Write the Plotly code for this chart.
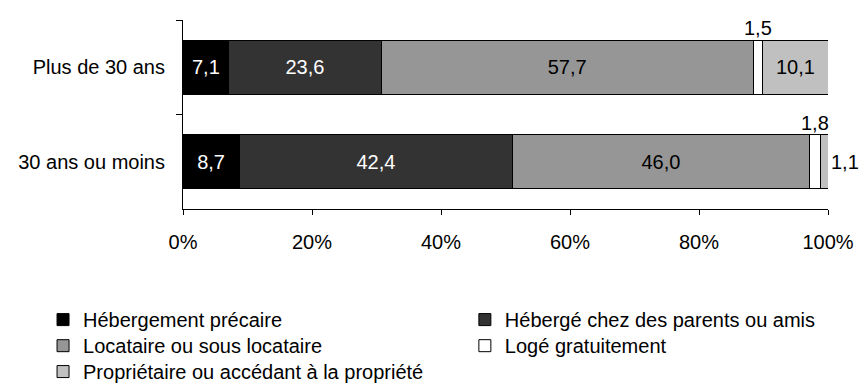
import plotly.graph_objects as go

# Age groups (top to bottom) and housing-situation shares, in %
categories = ["Plus de 30 ans", "30 ans ou moins"]

hebergement_precaire = [7.1, 8.7]
heberge_parents_amis = [23.6, 42.4]
locataire = [57.7, 46.0]
loge_gratuitement = [1.5, 1.8]
proprietaire = [10.1, 1.1]

x_ticks = [0, 20, 40, 60, 80, 100]
x_tick_labels = [f"{t}%" for t in x_ticks]

FONT = "Liberation Sans, Arial, sans-serif"
FS = 20

# name, values, fill, inside-text colour, legend id
series = [
    ("Hébergement précaire", hebergement_precaire, "#000000", "white", "legend"),
    ("Hébergé chez des parents ou amis", heberge_parents_amis, "#333333", "white", "legend2"),
    ("Locataire ou sous locataire", locataire, "#969696", "black", "legend3"),
    ("Logé gratuitement", loge_gratuitement, "#ffffff", "black", "legend4"),
    ("Propriétaire ou accédant à la propriété", proprietaire, "#c0c0c0", "black", "legend5"),
]

fig = go.Figure()
for name, vals, color, tcolor, leg in series:
    if name == "Logé gratuitement":
        textpos = "none"
    elif name.startswith("Propriétaire"):
        textpos = ["inside", "outside"]
    else:
        textpos = "inside"
    fig.add_trace(go.Bar(
        y=categories, x=vals, name=name, orientation="h",
        width=0.575,
        marker=dict(color=color, line=dict(color="black", width=1)),
        texttemplate="%{x:.1f}", textposition=textpos,
        insidetextanchor="middle",
        insidetextfont=dict(family=FONT, size=FS, color=tcolor),
        outsidetextfont=dict(family=FONT, size=FS, color="black"),
        constraintext="none", cliponaxis=False,
        legend=leg,
    ))

# Small "Logé gratuitement" values are written above their segments
for i, cat in enumerate(categories):
    start = hebergement_precaire[i] + heberge_parents_amis[i] + locataire[i]
    v = loge_gratuitement[i]
    fig.add_annotation(
        x=start + v / 2, y=cat, text=f"{v:.1f}".replace(".", ","),
        showarrow=False, yanchor="bottom", yshift=26,
        font=dict(family=FONT, size=FS, color="black"),
    )

# Legend laid out as two columns, one legend box per entry
col_x = [-0.217, 0.437]
row_y = [-0.482, -0.620, -0.757]
legend_slots = {
    "legend": (col_x[0], row_y[0]),
    "legend2": (col_x[1], row_y[0]),
    "legend3": (col_x[0], row_y[1]),
    "legend4": (col_x[1], row_y[1]),
    "legend5": (col_x[0], row_y[2]),
}
legend_layout = {
    key: dict(
        orientation="v", x=lx, y=ly, xanchor="left", yanchor="top",
        font=dict(family=FONT, size=FS, color="black"),
        bgcolor="rgba(0,0,0,0)",
    )
    for key, (lx, ly) in legend_slots.items()
}

fig.update_layout(
    width=861, height=389,
    margin=dict(l=183, r=33, t=20, b=180, autoexpand=False),
    paper_bgcolor="white", plot_bgcolor="white",
    barmode="stack", separators=", ",
    font=dict(family=FONT, size=FS, color="black"),
    showlegend=True,
    **legend_layout,
)

fig.update_xaxes(
    range=[0, 100], tickmode="array", tickvals=x_ticks, ticktext=x_tick_labels,
    showline=True, linecolor="black", linewidth=1,
    ticks="outside", ticklen=5, tickcolor="black",
    ticklabelstandoff=10,
    showgrid=False, zeroline=False,
    tickfont=dict(family=FONT, size=FS, color="black"),
)
fig.update_yaxes(
    type="category", categoryorder="array", categoryarray=categories,
    range=[1.5, -0.5],
    showline=True, linecolor="black", linewidth=1,
    ticks="outside", ticklen=6, tickcolor="black", tickson="boundaries",
    ticklabelstandoff=13,
    showgrid=False, zeroline=False,
    tickfont=dict(family=FONT, size=FS, color="black"),
)

fig.write_html("out.html")
